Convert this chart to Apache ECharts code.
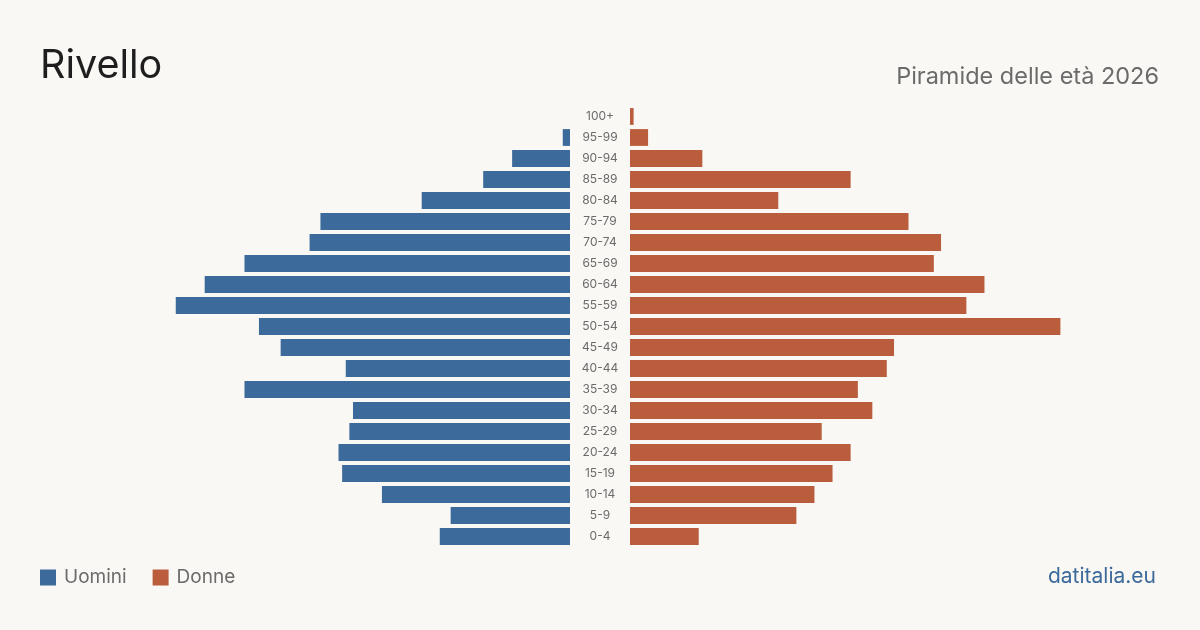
<!DOCTYPE html>
<html>
<head>
<meta charset="utf-8">
<script src="https://cdn.jsdelivr.net/npm/echarts@6/dist/echarts.min.js"></script>
<style>
  html, body { margin: 0; padding: 0; background: #f9f8f4; }
  #chart { width: 1200px; height: 630px; }
</style>
</head>
<body>
<div id="chart"></div>
<script>
// fasce d'età, dal basso verso l'alto
const ageGroups = ['0-4', '5-9', '10-14', '15-19', '20-24', '25-29', '30-34', '35-39', '40-44', '45-49',
  '50-54', '55-59', '60-64', '65-69', '70-74', '75-79', '80-84', '85-89', '90-94', '95-99', '100+']
const uomini = [36, 33, 52, 63, 64, 61, 60, 90, 62, 80, 86, 109, 101, 90, 72, 69, 41, 24, 16, 2, 0]
const donne = [19, 46, 51, 56, 61, 53, 67, 63, 71, 73, 119, 93, 98, 84, 86, 77, 41, 61, 20, 5, 1]
const axisMax = 149.3

const blue = '#3c6a9b'
const orange = '#b95d3c'
const font = 'Inter, "Noto Sans", sans-serif'

const chart = echarts.init(document.getElementById('chart'), null, { renderer: 'canvas' })

chart.setOption({
  backgroundColor: '#f9f8f4',
  animation: false,
  textStyle: { fontFamily: font },
  title: [
    {
      text: 'Rivello',
      left: 40,
      top: 46,
      padding: 0,
      textStyle: { fontFamily: font, fontSize: 39.5, fontWeight: 'normal', color: '#1e1e1e', lineHeight: 40 }
    },
    {
      text: 'Piramide delle età 2026',
      right: 41,
      top: 65,
      padding: 0,
      textStyle: { fontFamily: font, fontSize: 23.5, fontWeight: 'normal', color: '#6b6b6b', lineHeight: 24 }
    }
  ],
  legend: {
    left: 40,
    top: 568,
    padding: 0,
    icon: 'rect',
    itemWidth: 16,
    itemHeight: 16,
    itemGap: 26,
    data: ['Uomini', 'Donne'],
    textStyle: { fontFamily: font, fontSize: 19, color: '#6b6b6b', padding: [0, 0, 0, 3] }
  },
  graphic: [
    {
      type: 'text',
      right: 44,
      top: 566,
      style: { text: 'datitalia.eu', font: '21px ' + font, fill: blue }
    }
  ],
  grid: [
    { left: 30, width: 540, top: 106, height: 441 },
    { left: 630, width: 540, top: 106, height: 441 }
  ],
  xAxis: [
    { gridIndex: 0, type: 'value', min: 0, max: axisMax, inverse: true, show: false },
    { gridIndex: 1, type: 'value', min: 0, max: axisMax, show: false }
  ],
  yAxis: [
    {
      gridIndex: 0, type: 'category', data: ageGroups, show: false
    },
    {
      gridIndex: 1, type: 'category', data: ageGroups, position: 'left',
      axisLine: { show: false },
      axisTick: { show: false },
      splitLine: { show: false },
      axisLabel: { align: 'center', margin: 30, fontSize: 12, color: '#6b6b6b', fontFamily: font, padding: [3, 0, 0, 0] }
    }
  ],
  series: [
    {
      name: 'Uomini', type: 'bar', xAxisIndex: 0, yAxisIndex: 0,
      data: uomini, barCategoryGap: '20%', itemStyle: { color: blue }
    },
    {
      name: 'Donne', type: 'bar', xAxisIndex: 1, yAxisIndex: 1,
      data: donne, barCategoryGap: '20%', itemStyle: { color: orange }
    }
  ]
})
</script>
</body>
</html>
